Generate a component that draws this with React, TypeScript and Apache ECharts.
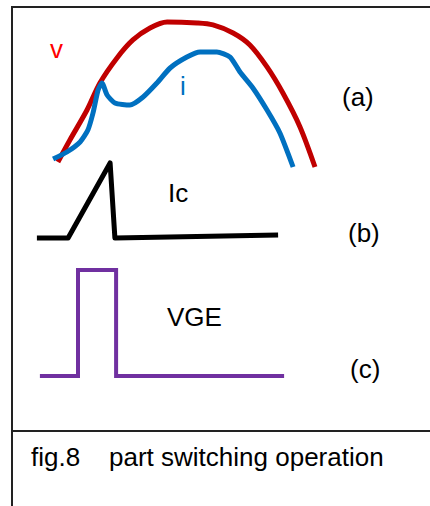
import React, { useEffect, useRef } from "react";
import * as echarts from "echarts";

// (a) voltage v and current i — time (0..100) vs relative amplitude (0..100)
const vTime = [9.3, 13.3, 19, 23.3, 29, 34.3, 40, 45.7, 55.7, 61, 67.7, 73.3, 79, 84.3, 90, 95];
const vValues = [5.3, 20, 40, 58, 74.7, 86.7, 94.7, 98.7, 98, 96.7, 91.3, 83.3, 68.7, 51.3, 28.7, 2];
const iTime = [7.7, 12.3, 16.7, 19.3, 21, 22.7, 24, 25.7, 28.3, 33.3, 37.7, 42.3, 46.7, 52.3, 56.7, 62.3, 66.7, 70, 74.3, 79, 83.3, 87.7];
const iValues = [7.3, 12, 18.7, 26.7, 38, 53.3, 58, 50, 44.7, 43.3, 48.7, 58, 68, 75.3, 78.7, 78.7, 75.3, 65.3, 54.7, 40, 24.7, 2];
// (b) collector current Ic
const icTime = [2.3, 12.7, 26.7, 28.3, 82.7];
const icValues = [2.5, 2.5, 96.3, 2.5, 6.3];
// (c) gate voltage VGE
const vgeTime = [3.3, 16, 16, 28.7, 28.7, 84.7];
const vgeValues = [3.5, 3.5, 95.7, 95.7, 3.5, 3.5];

const labels = {
  v: "v",
  i: "i",
  ic: "Ic",
  vge: "VGE",
  a: "(a)",
  b: "(b)",
  c: "(c)",
  caption: "fig.8    part switching operation",
};

const FONT = "'Liberation Sans', Arial, sans-serif";

function pairs(t: number[], v: number[]) {
  return t.map((x, k) => [x, v[k]]);
}

export default function App() {
  const ref = useRef<HTMLDivElement>(null);
  useEffect(() => {
    if (!ref.current) return;
    const chart = echarts.init(ref.current, undefined, { renderer: "svg" });
    const grids = [
      { left: 30, width: 300, top: 20, height: 150 },
      { left: 30, width: 300, top: 160, height: 80 },
      { left: 30, width: 300, top: 265, height: 115 },
    ];
    const xAxis = grids.map((_, k) => ({
      type: "value", gridIndex: k, min: 0, max: 100, show: false,
    }));
    const yAxis = grids.map((_, k) => ({
      type: "value", gridIndex: k, min: 0, max: 100, show: false,
    }));
    const txt = (text: string, x: number, y: number, fill: string, size = 26) => ({
      type: "text",
      x,
      y,
      style: {
        text,
        fill,
        font: `${size}px ${FONT}`,
        align: "left",
        verticalAlign: "middle",
      },
    });
    const line = (x1: number, y1: number, x2: number, y2: number) => ({
      type: "line",
      shape: { x1, y1, x2, y2 },
      style: { stroke: "#222", lineWidth: 2 },
    });
    chart.setOption({
      animation: false,
      backgroundColor: "#ffffff",
      grid: grids.map((g) => ({ ...g, containLabel: false })),
      xAxis,
      yAxis,
      series: [
        {
          type: "line", xAxisIndex: 0, yAxisIndex: 0, data: pairs(vTime, vValues),
          showSymbol: false, smooth: 0.3,
          lineStyle: { color: "#C00000", width: 5, join: "round" },
        },
        {
          type: "line", xAxisIndex: 0, yAxisIndex: 0, data: pairs(iTime, iValues),
          showSymbol: false, smooth: 0.2,
          lineStyle: { color: "#0070C0", width: 5, join: "round" },
        },
        {
          type: "line", xAxisIndex: 1, yAxisIndex: 1, data: pairs(icTime, icValues),
          showSymbol: false,
          lineStyle: { color: "#000000", width: 5, join: "round" },
        },
        {
          type: "line", xAxisIndex: 2, yAxisIndex: 2, data: pairs(vgeTime, vgeValues),
          showSymbol: false,
          lineStyle: { color: "#7030A0", width: 4, join: "miter" },
        },
      ],
      graphic: [
        line(11, 7, 430, 7),
        line(12, 6, 12, 506),
        line(12, 431, 430, 431),
        txt(labels.v, 50, 49, "#FF0000"),
        txt(labels.i, 180, 86, "#0070C0"),
        txt(labels.ic, 168, 193, "#000000"),
        txt(labels.vge, 167, 317, "#000000"),
        txt(labels.a, 342, 97, "#000000"),
        txt(labels.b, 348, 233, "#000000"),
        txt(labels.c, 350, 369, "#000000"),
        txt(labels.caption, 31, 457, "#000000", 26),
      ],
    });
    return () => chart.dispose();
  }, []);
  return (
    <div
      ref={ref}
      style={{ position: "absolute", left: 0, top: 0, width: 430, height: 506, background: "#fff" }}
    />
  );
}
